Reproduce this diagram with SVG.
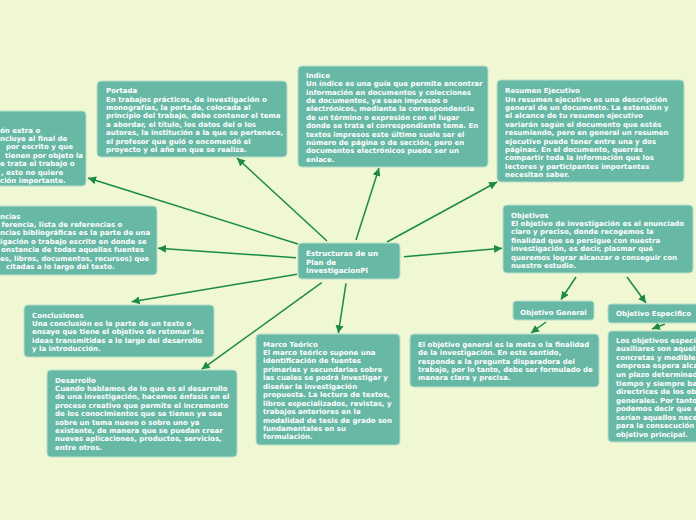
<svg xmlns="http://www.w3.org/2000/svg" width="696" height="520" viewBox="0 0 696 520">
<defs>
<style>
.box{fill:#68b8a6;stroke:#b9ddcb;stroke-width:1}
.t{font-family:"DejaVu Sans",Verdana,sans-serif;font-weight:bold;font-size:7px;fill:#ffffff}
.c{font-size:7.2px}
.ln{stroke:#1b8a45;stroke-width:1.5;fill:none;marker-end:url(#ah)}
</style>
<marker id="ah" markerUnits="userSpaceOnUse" markerWidth="9" markerHeight="8" refX="8" refY="4" orient="auto">
<path d="M0,0 L8,4 L0,8 z" fill="#1b8a45"/>
</marker>
</defs>
<rect width="696" height="520" fill="#eff7d3"/>

<g id="connectors">
<line class="ln" x1="298" y1="244" x2="88" y2="178"/>
<line class="ln" x1="327" y1="241" x2="237" y2="158"/>
<line class="ln" x1="356" y1="240" x2="379" y2="168"/>
<line class="ln" x1="387" y1="242" x2="497" y2="182"/>
<line class="ln" x1="296" y1="257.7" x2="158" y2="248.3"/>
<line class="ln" x1="404" y1="256.7" x2="502" y2="248.3"/>
<line class="ln" x1="297" y1="274.3" x2="131.7" y2="301.7"/>
<line class="ln" x1="321.7" y1="282.7" x2="201.7" y2="369.3"/>
<line class="ln" x1="346" y1="283.3" x2="338.3" y2="333.3"/>
<line class="ln" x1="576" y1="277" x2="561" y2="299.5"/>
<line class="ln" x1="627" y1="277" x2="646" y2="303"/>
<line class="ln" x1="546" y1="322" x2="531" y2="333"/>
<line class="ln" x1="665" y1="324" x2="652" y2="329"/>
</g>

<g id="apendice">
<rect class="box" x="-10" y="111" width="96" height="75" rx="4"/>
<text class="t" y="132.5"><tspan x="0">ón extra o</tspan><tspan x="0" dy="8.4">ncluye al final de</tspan><tspan x="6" dy="8.4">por escrito y que</tspan><tspan x="5" dy="8.4">tienen por objeto la</tspan><tspan x="0" dy="8.4">e trata el trabajo o</tspan><tspan x="1" dy="8.4">, esto no quiere</tspan><tspan x="0" dy="8.4">ción importante.</tspan></text>
</g>

<g id="portada">
<rect class="box" x="97" y="81" width="190" height="76" rx="4"/>
<text class="t" y="93.2"><tspan x="106">Portada</tspan><tspan x="106" dy="8.4">En trabajos prácticos, de investigación o</tspan><tspan x="106" dy="8.4">monografías, la portada, colocada al</tspan><tspan x="106" dy="8.4">principio del trabajo, debe contener el tema</tspan><tspan x="106" dy="8.4">a abordar, el título, los datos del o los</tspan><tspan x="106" dy="8.4">autores, la institución a la que se pertenece,</tspan><tspan x="106" dy="8.4">el profesor que guió o encomendó el</tspan><tspan x="106" dy="8.4">proyecto y el año en que se realiza.</tspan></text>
</g>

<g id="indice">
<rect class="box" x="298" y="66" width="190" height="101" rx="4"/>
<text class="t" y="77.8"><tspan x="306">Indice</tspan><tspan x="306" dy="8.4">Un índice es una guía que permite encontrar</tspan><tspan x="306" dy="8.4">información en documentos y colecciones</tspan><tspan x="306" dy="8.4">de documentos, ya sean impresos o</tspan><tspan x="306" dy="8.4">electrónicos, mediante la correspondencia</tspan><tspan x="306" dy="8.4">de un término o expresión con el lugar</tspan><tspan x="306" dy="8.4">donde se trata el correspondiente tema. En</tspan><tspan x="306" dy="8.4">textos impresos este último suele ser el</tspan><tspan x="306" dy="8.4">número de página o de sección, pero en</tspan><tspan x="306" dy="8.4">documentos electrónicos puede ser un</tspan><tspan x="306" dy="8.4">enlace.</tspan></text>
</g>

<g id="resumen">
<rect class="box" x="497" y="80" width="187" height="102" rx="4"/>
<text class="t" y="93.2"><tspan x="505">Resumen Ejecutivo</tspan><tspan x="505" dy="8.4">Un resumen ejecutivo es una descripción</tspan><tspan x="505" dy="8.4">general de un documento. La extensión y</tspan><tspan x="505" dy="8.4">el alcance de tu resumen ejecutivo</tspan><tspan x="505" dy="8.4">variarán según el documento que estés</tspan><tspan x="505" dy="8.4">resumiendo, pero en general un resumen</tspan><tspan x="505" dy="8.4">ejecutivo puede tener entre una y dos</tspan><tspan x="505" dy="8.4">páginas. En el documento, querrás</tspan><tspan x="505" dy="8.4">compartir toda la información que los</tspan><tspan x="505" dy="8.4">lectores y participantes importantes</tspan><tspan x="505" dy="8.4">necesitan saber.</tspan></text>
</g>

<g id="referencias">
<rect class="box" x="-10" y="206" width="167" height="69" rx="4"/>
<text class="t" y="218.5"><tspan x="0">ncias</tspan><tspan x="1.5" dy="8.4">ferencia, lista de referencias o</tspan><tspan x="0" dy="8.4">ncias bibliográficas es la parte de una</tspan><tspan x="0" dy="8.4">igación o trabajo escrito en donde se</tspan><tspan x="1" dy="8.4">onstancia de todas aquellas fuentes</tspan><tspan x="0" dy="8.4">es, libros, documentos, recursos) que</tspan><tspan x="6" dy="8.4">citadas a lo largo del texto.</tspan></text>
</g>

<g id="centro">
<rect class="box" x="298" y="243" width="102" height="36" rx="4"/>
<text class="t c" y="255.8"><tspan x="306">Estructuras de un</tspan><tspan x="306" dy="8.7">Plan de</tspan><tspan x="306" dy="8.7">InvestigacionPl</tspan></text>
</g>

<g id="objetivos">
<rect class="box" x="503" y="205" width="190" height="68" rx="4"/>
<text class="t" y="217.5"><tspan x="511">Objetivos</tspan><tspan x="511" dy="8.4">El objetivo de investigación es el enunciado</tspan><tspan x="511" dy="8.4">claro y preciso, donde recogemos la</tspan><tspan x="511" dy="8.4">finalidad que se persigue con nuestra</tspan><tspan x="511" dy="8.4">investigación, es decir, plasmar qué</tspan><tspan x="511" dy="8.4">queremos lograr alcanzar o conseguir con</tspan><tspan x="511" dy="8.4">nuestro estudio.</tspan></text>
</g>

<g id="conclusiones">
<rect class="box" x="24" y="305" width="190" height="52" rx="4"/>
<text class="t" y="317.5"><tspan x="32">Conclusiones</tspan><tspan x="32" dy="8.4">Una conclusión es la parte de un texto o</tspan><tspan x="32" dy="8.4">ensayo que tiene el objetivo de retomar las</tspan><tspan x="32" dy="8.4">ideas transmitidas a lo largo del desarrollo</tspan><tspan x="32" dy="8.4">y la introducción.</tspan></text>
</g>

<g id="desarrollo">
<rect class="box" x="47" y="370" width="190" height="87" rx="4"/>
<text class="t" y="382.5"><tspan x="55">Desarrollo</tspan><tspan x="55" dy="8.4">Cuando hablamos de lo que es el desarrollo</tspan><tspan x="55" dy="8.4">de una investigación, hacemos énfasis en el</tspan><tspan x="55" dy="8.4">proceso creativo que permite el incremento</tspan><tspan x="55" dy="8.4">de los conocimientos que se tienen ya sea</tspan><tspan x="55" dy="8.4">sobre un tema nuevo o sobre uno ya</tspan><tspan x="55" dy="8.4">existente, de manera que se puedan crear</tspan><tspan x="55" dy="8.4">nuevas aplicaciones, productos, servicios,</tspan><tspan x="55" dy="8.4">entre otros.</tspan></text>
</g>

<g id="marco">
<rect class="box" x="256" y="334" width="144" height="111" rx="4"/>
<text class="t" y="346.5"><tspan x="263">Marco Teórico</tspan><tspan x="263" dy="8.45">El marco teórico supone una</tspan><tspan x="263" dy="8.45">identificación de fuentes</tspan><tspan x="263" dy="8.45">primarias y secundarias sobre</tspan><tspan x="263" dy="8.45">las cuales se podrá investigar y</tspan><tspan x="263" dy="8.45">diseñar la investigación</tspan><tspan x="263" dy="8.45">propuesta. La lectura de textos,</tspan><tspan x="263" dy="8.45">libros especializados, revistas, y</tspan><tspan x="263" dy="8.45">trabajos anteriores en la</tspan><tspan x="263" dy="8.45">modalidad de tesis de grado son</tspan><tspan x="263" dy="8.45">fundamentales en su</tspan><tspan x="263" dy="8.45">formulación.</tspan></text>
</g>

<g id="objetivo-general">
<rect class="box" x="513" y="301" width="81" height="19" rx="3"/>
<text class="t" x="553.5" y="314.5" text-anchor="middle">Objetivo General</text>
</g>

<g id="objetivo-especifico">
<rect class="box" x="608" y="304" width="100" height="19" rx="3"/>
<text class="t" x="616" y="316.2">Objetivo Especifico</text>
</g>

<g id="objetivo-general-texto">
<rect class="box" x="410" y="334" width="189" height="53" rx="4"/>
<text class="t" y="346.8"><tspan x="418">El objetivo general es la meta o la finalidad</tspan><tspan x="418" dy="8.4">de la investigación. En este sentido,</tspan><tspan x="418" dy="8.4">responde a la pregunta disparadora del</tspan><tspan x="418" dy="8.4">trabajo, por lo tanto, debe ser formulado de</tspan><tspan x="418" dy="8.4">manera clara y precisa.</tspan></text>
</g>

<g id="objetivo-especifico-texto">
<rect class="box" x="608" y="331" width="100" height="111" rx="4"/>
<text class="t" y="342.8"><tspan x="616">Los objetivos especí</tspan><tspan x="616" dy="8.55">auxiliares son aquell</tspan><tspan x="616" dy="8.55">concretas y medibles</tspan><tspan x="616" dy="8.55">empresa espera alca</tspan><tspan x="616" dy="8.55">un plazo determinad</tspan><tspan x="616" dy="8.55">tiempo y siempre ba</tspan><tspan x="616" dy="8.55">directrices de los ob</tspan><tspan x="616" dy="8.55">generales. Por tanto</tspan><tspan x="616" dy="8.55">podemos decir que e</tspan><tspan x="616" dy="8.55">serían aquellos nece</tspan><tspan x="616" dy="8.55">para la consecución</tspan><tspan x="616" dy="8.55">objetivo principal.</tspan></text>
</g>
</svg>
